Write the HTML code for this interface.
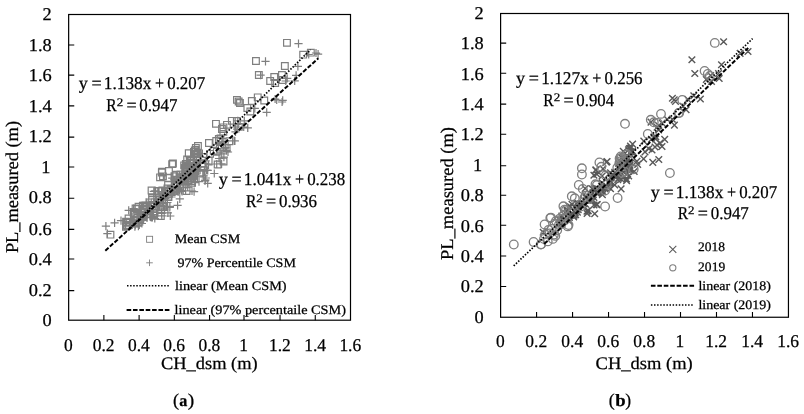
<!DOCTYPE html>
<html lang="en"><head><meta charset="utf-8"><title>PL_measured vs CH_dsm</title>
<style>html,body{margin:0;padding:0;background:#fff}svg{display:block}text{font-family:"Liberation Serif",serif;fill:#000;stroke:#000;stroke-width:.25px;text-rendering:geometricPrecision}</style></head><body>
<svg width="804" height="414" viewBox="0 0 804 414">
<rect width="804" height="414" fill="#fff"/>
<rect x="68.65" y="14.50" width="281.85" height="305.70" fill="none" stroke="#000" stroke-width="1.2"/>
<path d="M68.65 290.63h5.6M68.65 259.06h5.6M68.65 229.39h5.6M68.65 198.32h5.6M68.65 167.05h5.6M68.65 137.08h5.6M68.65 105.91h5.6M68.65 75.14h5.6M68.65 45.07h5.6M103.88 320.20v-5.2M139.11 320.20v-5.2M174.34 320.20v-5.2M209.58 320.20v-5.2M244.01 320.20v-5.2M280.04 320.20v-5.2M315.27 320.20v-5.2" stroke="#000" stroke-width="1.1" fill="none"/>
<path d="M283.6 39.5h6.7v6.7h-6.7zM252.6 57.6h6.7v6.7h-6.7zM281.5 62.6h6.7v6.7h-6.7zM299.8 51.3h6.7v6.7h-6.7zM307.5 49.3h6.7v6.7h-6.7zM255.5 71.6h6.7v6.7h-6.7zM270.9 73.6h6.7v6.7h-6.7zM278.6 71.6h6.7v6.7h-6.7zM266.8 77.6h6.7v6.7h-6.7zM271.8 79.6h6.7v6.7h-6.7zM279.3 76.6h6.7v6.7h-6.7zM233.6 96.5h6.7v6.7h-6.7zM236.6 99.7h6.7v6.7h-6.7zM248.5 97.7h6.7v6.7h-6.7zM254.4 94.0h6.7v6.7h-6.7zM260.9 97.1h6.7v6.7h-6.7zM244.0 104.6h6.7v6.7h-6.7zM247.0 108.1h6.7v6.7h-6.7zM212.6 120.5h6.7v6.7h-6.7zM220.1 124.0h6.7v6.7h-6.7zM223.6 121.5h6.7v6.7h-6.7zM233.5 117.6h6.7v6.7h-6.7zM235.5 123.5h6.7v6.7h-6.7zM205.6 139.6h6.7v6.7h-6.7zM215.5 135.6h6.7v6.7h-6.7zM194.6 142.6h6.7v6.7h-6.7zM192.6 146.6h6.7v6.7h-6.7zM190.6 148.5h6.7v6.7h-6.7zM169.6 160.1h6.7v6.7h-6.7zM165.6 167.6h6.7v6.7h-6.7zM158.5 169.1h6.7v6.7h-6.7zM156.7 174.0h6.7v6.7h-6.7zM182.5 160.6h6.7v6.7h-6.7zM191.5 147.2h6.7v6.7h-6.7zM192.5 144.7h6.7v6.7h-6.7zM214.3 161.1h6.7v6.7h-6.7zM220.2 158.1h6.7v6.7h-6.7zM148.2 187.2h6.7v6.7h-6.7zM158.7 168.3h6.7v6.7h-6.7zM168.8 160.8h6.7v6.7h-6.7zM107.1 231.3h6.7v6.7h-6.7zM235.3 98.1h6.7v6.7h-6.7zM226.0 137.9h6.7v6.7h-6.7zM199.5 163.0h6.7v6.7h-6.7zM205.3 157.5h6.7v6.7h-6.7zM213.5 148.5h6.7v6.7h-6.7zM216.5 145.5h6.7v6.7h-6.7zM218.4 143.5h6.7v6.7h-6.7zM221.4 141.5h6.7v6.7h-6.7zM223.3 145.0h6.7v6.7h-6.7zM132.8 220.2h6.7v6.7h-6.7zM148.7 194.8h6.7v6.7h-6.7zM153.8 195.0h6.7v6.7h-6.7zM182.8 165.5h6.7v6.7h-6.7zM191.8 166.7h6.7v6.7h-6.7zM177.1 171.1h6.7v6.7h-6.7zM164.7 174.7h6.7v6.7h-6.7zM165.0 193.6h6.7v6.7h-6.7zM173.4 176.7h6.7v6.7h-6.7zM186.4 156.2h6.7v6.7h-6.7zM181.0 176.9h6.7v6.7h-6.7zM157.8 187.9h6.7v6.7h-6.7zM164.1 185.1h6.7v6.7h-6.7zM165.6 190.5h6.7v6.7h-6.7zM191.6 164.3h6.7v6.7h-6.7zM173.6 176.6h6.7v6.7h-6.7zM171.1 172.8h6.7v6.7h-6.7zM130.3 209.5h6.7v6.7h-6.7zM154.9 187.5h6.7v6.7h-6.7zM185.6 171.0h6.7v6.7h-6.7zM187.1 157.6h6.7v6.7h-6.7zM138.8 213.7h6.7v6.7h-6.7zM141.1 202.1h6.7v6.7h-6.7zM163.6 188.0h6.7v6.7h-6.7zM167.4 187.6h6.7v6.7h-6.7zM217.1 137.4h6.7v6.7h-6.7zM151.2 209.5h6.7v6.7h-6.7zM126.7 218.5h6.7v6.7h-6.7zM125.6 221.6h6.7v6.7h-6.7zM148.6 203.0h6.7v6.7h-6.7zM132.7 216.4h6.7v6.7h-6.7zM130.8 213.9h6.7v6.7h-6.7zM157.5 212.6h6.7v6.7h-6.7zM141.3 208.5h6.7v6.7h-6.7zM192.0 163.8h6.7v6.7h-6.7zM194.1 150.8h6.7v6.7h-6.7zM148.8 196.6h6.7v6.7h-6.7zM179.3 175.1h6.7v6.7h-6.7zM194.5 149.8h6.7v6.7h-6.7zM176.4 174.2h6.7v6.7h-6.7zM123.8 221.7h6.7v6.7h-6.7zM172.9 171.4h6.7v6.7h-6.7zM228.5 117.5h6.7v6.7h-6.7zM138.5 211.4h6.7v6.7h-6.7zM188.3 159.4h6.7v6.7h-6.7zM180.8 162.0h6.7v6.7h-6.7zM217.2 135.2h6.7v6.7h-6.7zM180.1 178.3h6.7v6.7h-6.7zM196.1 170.2h6.7v6.7h-6.7zM134.2 214.3h6.7v6.7h-6.7zM218.6 125.7h6.7v6.7h-6.7zM210.4 147.3h6.7v6.7h-6.7zM122.7 218.3h6.7v6.7h-6.7zM190.7 174.7h6.7v6.7h-6.7zM137.3 214.2h6.7v6.7h-6.7zM165.1 187.1h6.7v6.7h-6.7zM189.0 167.9h6.7v6.7h-6.7zM188.6 177.6h6.7v6.7h-6.7zM161.0 192.1h6.7v6.7h-6.7zM135.2 203.3h6.7v6.7h-6.7zM156.7 196.4h6.7v6.7h-6.7zM160.0 203.5h6.7v6.7h-6.7zM163.1 188.6h6.7v6.7h-6.7zM159.2 203.7h6.7v6.7h-6.7zM198.7 159.9h6.7v6.7h-6.7zM172.9 187.4h6.7v6.7h-6.7zM191.3 165.4h6.7v6.7h-6.7zM188.7 179.4h6.7v6.7h-6.7zM131.8 213.9h6.7v6.7h-6.7zM139.5 202.4h6.7v6.7h-6.7zM188.0 157.6h6.7v6.7h-6.7zM132.2 205.2h6.7v6.7h-6.7zM192.1 166.6h6.7v6.7h-6.7zM220.0 128.4h6.7v6.7h-6.7zM146.8 202.7h6.7v6.7h-6.7zM159.6 173.0h6.7v6.7h-6.7zM193.6 154.1h6.7v6.7h-6.7zM179.3 173.1h6.7v6.7h-6.7zM189.1 160.6h6.7v6.7h-6.7zM189.7 172.5h6.7v6.7h-6.7zM191.1 168.0h6.7v6.7h-6.7zM185.0 176.7h6.7v6.7h-6.7zM146.8 199.0h6.7v6.7h-6.7zM139.3 208.8h6.7v6.7h-6.7zM143.1 202.7h6.7v6.7h-6.7zM156.8 203.9h6.7v6.7h-6.7zM153.6 199.3h6.7v6.7h-6.7zM159.2 192.1h6.7v6.7h-6.7zM183.2 187.6h6.7v6.7h-6.7zM131.3 209.4h6.7v6.7h-6.7zM133.7 205.7h6.7v6.7h-6.7zM171.3 181.6h6.7v6.7h-6.7zM155.7 191.7h6.7v6.7h-6.7zM192.8 150.4h6.7v6.7h-6.7zM193.1 161.5h6.7v6.7h-6.7zM149.9 210.1h6.7v6.7h-6.7zM159.0 187.0h6.7v6.7h-6.7zM151.2 198.9h6.7v6.7h-6.7zM170.3 186.0h6.7v6.7h-6.7zM182.7 171.0h6.7v6.7h-6.7zM183.5 160.7h6.7v6.7h-6.7zM181.8 164.6h6.7v6.7h-6.7zM183.4 164.0h6.7v6.7h-6.7zM187.7 168.8h6.7v6.7h-6.7zM124.0 222.7h6.7v6.7h-6.7zM183.5 177.9h6.7v6.7h-6.7zM172.0 180.4h6.7v6.7h-6.7zM177.0 183.8h6.7v6.7h-6.7zM136.9 215.8h6.7v6.7h-6.7zM150.0 212.4h6.7v6.7h-6.7zM167.3 186.3h6.7v6.7h-6.7zM140.5 211.3h6.7v6.7h-6.7zM122.6 223.4h6.7v6.7h-6.7zM172.9 181.7h6.7v6.7h-6.7zM156.0 199.1h6.7v6.7h-6.7zM185.4 149.9h6.7v6.7h-6.7zM155.6 188.0h6.7v6.7h-6.7zM141.5 205.6h6.7v6.7h-6.7zM164.7 181.6h6.7v6.7h-6.7zM181.8 166.6h6.7v6.7h-6.7zM212.9 137.6h6.7v6.7h-6.7zM123.5 219.4h6.7v6.7h-6.7zM144.0 203.3h6.7v6.7h-6.7zM183.8 156.2h6.7v6.7h-6.7zM130.6 210.6h6.7v6.7h-6.7zM190.3 166.7h6.7v6.7h-6.7zM206.7 150.5h6.7v6.7h-6.7zM125.2 215.1h6.7v6.7h-6.7z" fill="none" stroke="#7f7f7f" stroke-width="1.2"/>
<path d="M294.4 43.6h8.2M298.5 39.5v8.2M261.4 61.3h8.2M265.5 57.2v8.2M293.8 66.3h8.2M297.9 62.2v8.2M304.6 54.5h8.2M308.7 50.4v8.2M314.0 54.2h8.2M318.1 50.1v8.2M311.9 53.0h8.2M316.0 48.9v8.2M256.5 75.2h8.2M260.6 71.1v8.2M292.0 75.4h8.2M296.1 71.3v8.2M283.1 78.4h8.2M287.2 74.3v8.2M290.6 80.9h8.2M294.7 76.8v8.2M281.6 81.0h8.2M285.7 76.9v8.2M272.6 100.0h8.2M276.7 95.9v8.2M278.6 100.3h8.2M282.7 96.2v8.2M271.0 99.0h8.2M275.1 94.9v8.2M278.0 102.0h8.2M282.1 97.9v8.2M262.6 112.4h8.2M266.7 108.3v8.2M250.7 108.4h8.2M254.8 104.3v8.2M240.2 120.9h8.2M244.3 116.8v8.2M243.7 127.8h8.2M247.8 123.7v8.2M230.8 127.0h8.2M234.9 122.9v8.2M234.6 124.0h8.2M238.7 119.9v8.2M243.6 128.0h8.2M247.7 123.9v8.2M228.6 140.9h8.2M232.7 136.8v8.2M239.6 127.0h8.2M243.7 122.9v8.2M217.5 163.9h8.2M221.6 159.8v8.2M203.6 170.4h8.2M207.7 166.3v8.2M199.6 175.8h8.2M203.7 171.7v8.2M203.6 183.3h8.2M207.7 179.2v8.2M212.6 164.0h8.2M216.7 159.9v8.2M101.8 226.1h8.2M105.9 222.0v8.2M103.3 233.7h8.2M107.4 229.6v8.2M110.5 222.8h8.2M114.6 218.7v8.2M116.9 220.6h8.2M121.0 216.5v8.2M124.6 210.4h8.2M128.7 206.3v8.2M150.7 218.5h8.2M154.8 214.4v8.2M173.5 205.4h8.2M177.6 201.3v8.2M175.7 198.9h8.2M179.8 194.8v8.2M219.8 157.1h8.2M223.9 153.0v8.2M221.4 147.7h8.2M225.5 143.6v8.2M190.0 191.6h8.2M194.1 187.5v8.2M223.9 152.0h8.2M228.0 147.9v8.2M214.9 158.5h8.2M219.0 154.4v8.2M137.8 223.5h8.2M141.9 219.4v8.2M157.6 198.2h8.2M161.7 194.1v8.2M161.4 198.4h8.2M165.5 194.3v8.2M192.1 168.9h8.2M196.2 164.8v8.2M196.0 170.1h8.2M200.1 166.0v8.2M180.3 174.5h8.2M184.4 170.4v8.2M168.1 178.1h8.2M172.2 174.0v8.2M167.4 197.0h8.2M171.5 192.9v8.2M180.3 180.1h8.2M184.4 176.0v8.2M192.5 159.6h8.2M196.6 155.5v8.2M179.9 180.2h8.2M184.0 176.1v8.2M172.1 191.2h8.2M176.2 187.1v8.2M174.0 188.4h8.2M178.1 184.3v8.2M167.2 193.9h8.2M171.3 189.8v8.2M190.5 167.7h8.2M194.6 163.6v8.2M170.2 179.9h8.2M174.3 175.8v8.2M178.6 176.1h8.2M182.7 172.0v8.2M140.3 212.9h8.2M144.4 208.8v8.2M151.1 190.9h8.2M155.2 186.8v8.2M191.3 174.3h8.2M195.4 170.2v8.2M196.7 161.0h8.2M200.8 156.9v8.2M146.1 217.0h8.2M150.2 212.9v8.2M153.3 205.5h8.2M157.4 201.4v8.2M178.0 191.3h8.2M182.1 187.2v8.2M173.2 191.0h8.2M177.3 186.9v8.2M230.4 140.8h8.2M234.5 136.7v8.2M163.8 212.9h8.2M167.9 208.8v8.2M134.1 221.8h8.2M138.2 217.7v8.2M135.2 224.9h8.2M139.3 220.8v8.2M165.8 206.3h8.2M169.9 202.2v8.2M139.2 219.7h8.2M143.3 215.6v8.2M147.1 217.3h8.2M151.2 213.2v8.2M166.2 216.0h8.2M170.3 211.9v8.2M149.4 211.8h8.2M153.5 207.7v8.2M195.7 167.2h8.2M199.8 163.1v8.2M194.5 154.2h8.2M198.6 150.1v8.2M163.3 200.0h8.2M167.4 195.9v8.2M189.3 178.4h8.2M193.4 174.3v8.2M193.5 153.1h8.2M197.6 149.0v8.2M189.4 177.6h8.2M193.5 173.5v8.2M131.2 225.1h8.2M135.3 221.0v8.2M178.0 174.8h8.2M182.1 170.7v8.2M233.7 120.9h8.2M237.8 116.8v8.2M148.5 214.7h8.2M152.6 210.6v8.2M189.8 162.7h8.2M193.9 158.6v8.2M191.4 165.4h8.2M195.5 161.3v8.2M217.9 138.5h8.2M222.0 134.4v8.2M194.9 181.6h8.2M199.0 177.5v8.2M210.2 173.5h8.2M214.3 169.4v8.2M143.1 217.6h8.2M147.2 213.5v8.2M233.1 129.1h8.2M237.2 125.0v8.2M222.4 150.6h8.2M226.5 146.5v8.2M128.0 221.6h8.2M132.1 217.5v8.2M201.7 178.0h8.2M205.8 173.9v8.2M148.3 217.5h8.2M152.4 213.4v8.2M177.2 190.5h8.2M181.3 186.4v8.2M200.3 171.2h8.2M204.4 167.1v8.2M200.9 180.9h8.2M205.0 176.8v8.2M167.5 195.4h8.2M171.6 191.3v8.2M142.1 206.7h8.2M146.2 202.6v8.2M156.7 199.7h8.2M160.8 195.6v8.2M163.5 206.9h8.2M167.6 202.8v8.2M174.0 191.9h8.2M178.1 187.8v8.2M162.5 207.0h8.2M166.6 202.9v8.2M201.3 163.3h8.2M205.4 159.2v8.2M181.5 190.8h8.2M185.6 186.7v8.2M187.7 168.7h8.2M191.8 164.6v8.2M190.7 182.7h8.2M194.8 178.6v8.2M142.4 217.3h8.2M146.5 213.2v8.2M149.6 205.7h8.2M153.7 201.6v8.2M201.6 160.9h8.2M205.7 156.8v8.2M129.6 208.5h8.2M133.7 204.4v8.2M202.4 170.0h8.2M206.5 165.9v8.2M231.4 131.8h8.2M235.5 127.7v8.2M157.8 206.0h8.2M161.9 201.9v8.2M172.2 176.3h8.2M176.3 172.2v8.2M202.8 157.4h8.2M206.9 153.3v8.2M188.7 176.5h8.2M192.8 172.4v8.2M192.0 164.0h8.2M196.1 159.9v8.2M192.8 175.8h8.2M196.9 171.7v8.2M191.4 171.3h8.2M195.5 167.2v8.2M201.3 180.0h8.2M205.4 175.9v8.2M142.0 202.3h8.2M146.1 198.2v8.2M148.0 212.2h8.2M152.1 208.1v8.2M146.5 206.0h8.2M150.6 201.9v8.2M165.7 207.3h8.2M169.8 203.2v8.2M150.3 202.7h8.2M154.4 198.6v8.2M160.1 195.5h8.2M164.2 191.4v8.2M187.9 191.0h8.2M192.0 186.9v8.2M141.7 212.8h8.2M145.8 208.7v8.2M145.5 209.1h8.2M149.6 205.0v8.2M181.8 185.0h8.2M185.9 180.9v8.2M167.1 195.0h8.2M171.2 190.9v8.2M198.3 153.7h8.2M202.4 149.6v8.2M204.4 164.8h8.2M208.5 160.7v8.2M157.5 213.4h8.2M161.6 209.3v8.2M165.8 190.4h8.2M169.9 186.3v8.2M158.2 202.2h8.2M162.3 198.1v8.2M174.7 189.4h8.2M178.8 185.3v8.2M181.8 174.3h8.2M185.9 170.2v8.2M185.5 164.0h8.2M189.6 159.9v8.2M193.4 168.0h8.2M197.5 163.9v8.2M180.8 167.4h8.2M184.9 163.3v8.2M187.0 172.2h8.2M191.1 168.1v8.2M134.3 226.1h8.2M138.4 222.0v8.2M187.5 181.3h8.2M191.6 177.2v8.2M178.7 183.8h8.2M182.8 179.7v8.2M183.6 187.1h8.2M187.7 183.0v8.2M129.1 219.2h8.2M133.2 215.1v8.2M157.7 215.8h8.2M161.8 211.7v8.2M172.3 189.6h8.2M176.4 185.5v8.2M142.6 214.6h8.2M146.7 210.5v8.2M130.8 226.7h8.2M134.9 222.6v8.2M175.6 185.0h8.2M179.7 180.9v8.2M163.3 202.5h8.2M167.4 198.4v8.2M190.3 153.3h8.2M194.4 149.2v8.2M149.7 191.3h8.2M153.8 187.2v8.2M160.5 208.9h8.2M164.6 204.8v8.2M176.3 184.9h8.2M180.4 180.8v8.2M182.7 169.9h8.2M186.8 165.8v8.2M230.8 141.0h8.2M234.9 136.9v8.2M130.3 222.7h8.2M134.4 218.6v8.2M154.4 206.7h8.2M158.5 202.6v8.2M190.6 159.5h8.2M194.7 155.4v8.2M133.5 214.0h8.2M137.6 209.9v8.2M200.8 170.1h8.2M204.9 166.0v8.2M217.6 153.8h8.2M221.7 149.7v8.2M137.9 218.4h8.2M142.0 214.3v8.2" fill="none" stroke="#7f7f7f" stroke-width="1.2"/>
<line x1="129.4" y1="228.5" x2="310.5" y2="49.7" stroke="#000" stroke-width="1.7" stroke-dasharray="1.5 1.6"/>
<line x1="105.3" y1="250.7" x2="318.4" y2="58.2" stroke="#000" stroke-width="2.0" stroke-dasharray="4.4 1.8"/>
<text x="51.80" y="325.7" font-size="18" text-anchor="end" textLength="9.18" lengthAdjust="spacingAndGlyphs">0</text>
<text x="51.80" y="296.0" font-size="18" text-anchor="end" textLength="22.95" lengthAdjust="spacingAndGlyphs">0.2</text>
<text x="51.80" y="264.6" font-size="18" text-anchor="end" textLength="22.95" lengthAdjust="spacingAndGlyphs">0.4</text>
<text x="51.80" y="234.5" font-size="18" text-anchor="end" textLength="22.95" lengthAdjust="spacingAndGlyphs">0.6</text>
<text x="51.80" y="203.4" font-size="18" text-anchor="end" textLength="22.95" lengthAdjust="spacingAndGlyphs">0.8</text>
<text x="50.40" y="172.8" font-size="18" text-anchor="end" textLength="9.18" lengthAdjust="spacingAndGlyphs">1</text>
<text x="51.80" y="142.3" font-size="18" text-anchor="end" textLength="22.95" lengthAdjust="spacingAndGlyphs">1.2</text>
<text x="51.80" y="111.7" font-size="18" text-anchor="end" textLength="22.95" lengthAdjust="spacingAndGlyphs">1.4</text>
<text x="51.80" y="81.1" font-size="18" text-anchor="end" textLength="22.95" lengthAdjust="spacingAndGlyphs">1.6</text>
<text x="51.80" y="50.6" font-size="18" text-anchor="end" textLength="22.95" lengthAdjust="spacingAndGlyphs">1.8</text>
<text x="51.80" y="20.0" font-size="18" text-anchor="end" textLength="9.18" lengthAdjust="spacingAndGlyphs">2</text>
<text x="68.45" y="351.1" font-size="18" text-anchor="middle" textLength="8.73" lengthAdjust="spacingAndGlyphs">0</text>
<text x="103.68" y="351.1" font-size="18" text-anchor="middle" textLength="21.82" lengthAdjust="spacingAndGlyphs">0.2</text>
<text x="138.91" y="351.1" font-size="18" text-anchor="middle" textLength="21.82" lengthAdjust="spacingAndGlyphs">0.4</text>
<text x="174.14" y="351.1" font-size="18" text-anchor="middle" textLength="21.82" lengthAdjust="spacingAndGlyphs">0.6</text>
<text x="209.38" y="351.1" font-size="18" text-anchor="middle" textLength="21.82" lengthAdjust="spacingAndGlyphs">0.8</text>
<text x="243.51" y="351.1" font-size="18" text-anchor="middle" textLength="8.73" lengthAdjust="spacingAndGlyphs">1</text>
<text x="279.84" y="351.1" font-size="18" text-anchor="middle" textLength="21.82" lengthAdjust="spacingAndGlyphs">1.2</text>
<text x="315.07" y="351.1" font-size="18" text-anchor="middle" textLength="21.82" lengthAdjust="spacingAndGlyphs">1.4</text>
<text x="350.30" y="351.1" font-size="18" text-anchor="middle" textLength="21.82" lengthAdjust="spacingAndGlyphs">1.6</text>
<text x="161.04" y="369.2" font-size="17.6" textLength="96.66" lengthAdjust="spacingAndGlyphs">CH_dsm (m)</text>
<text transform="translate(17.5 252.6) rotate(-90)" x="-0.53" y="0" font-size="18" textLength="132.14" lengthAdjust="spacingAndGlyphs">PL_measured (m)</text>
<text x="78.74" y="89.3" font-size="18" textLength="9.09" lengthAdjust="spacingAndGlyphs">y</text>
<text x="91.46" y="89.3" font-size="18" textLength="10.18" lengthAdjust="spacingAndGlyphs">=</text>
<text x="103.84" y="89.3" font-size="18" textLength="47.53" lengthAdjust="spacingAndGlyphs">1.138x</text>
<text x="154.96" y="89.3" font-size="18" textLength="9.09" lengthAdjust="spacingAndGlyphs">+</text>
<text x="167.22" y="89.3" font-size="18" textLength="37.93" lengthAdjust="spacingAndGlyphs">0.207</text>
<text x="106.35" y="110.9" font-size="18" textLength="10.37" lengthAdjust="spacingAndGlyphs">R</text>
<text x="116.73" y="105.7" font-size="11.5" stroke-width="0.12" textLength="6.49" lengthAdjust="spacingAndGlyphs">2</text>
<text x="126.40" y="110.9" font-size="18" textLength="10.18" lengthAdjust="spacingAndGlyphs">=</text>
<text x="139.36" y="110.9" font-size="18" textLength="38.03" lengthAdjust="spacingAndGlyphs">0.947</text>
<text x="218.68" y="184.9" font-size="18" textLength="9.09" lengthAdjust="spacingAndGlyphs">y</text>
<text x="231.40" y="184.9" font-size="18" textLength="10.18" lengthAdjust="spacingAndGlyphs">=</text>
<text x="243.78" y="184.9" font-size="18" textLength="47.53" lengthAdjust="spacingAndGlyphs">1.041x</text>
<text x="294.90" y="184.9" font-size="18" textLength="9.09" lengthAdjust="spacingAndGlyphs">+</text>
<text x="307.16" y="184.9" font-size="18" textLength="38.09" lengthAdjust="spacingAndGlyphs">0.238</text>
<text x="245.95" y="206.8" font-size="18" textLength="10.37" lengthAdjust="spacingAndGlyphs">R</text>
<text x="256.33" y="201.6" font-size="11.5" stroke-width="0.12" textLength="6.49" lengthAdjust="spacingAndGlyphs">2</text>
<text x="266.00" y="206.8" font-size="18" textLength="10.18" lengthAdjust="spacingAndGlyphs">=</text>
<text x="278.96" y="206.8" font-size="18" textLength="38.05" lengthAdjust="spacingAndGlyphs">0.936</text>
<rect x="146.6" y="236.3" width="6" height="6" fill="none" stroke="#7f7f7f" stroke-width="0.9"/>
<path d="M146.2 262.8h6.6M149.5 259.5v6.6" stroke="#7f7f7f" stroke-width="0.9" fill="none"/>
<line x1="127" y1="285.7" x2="168.8" y2="285.7" stroke="#000" stroke-width="1.5" stroke-dasharray="1.5 1.6"/>
<line x1="126.6" y1="310" x2="169.6" y2="310" stroke="#000" stroke-width="1.9" stroke-dasharray="4.6 1.77"/>
<text x="174.69" y="242.9" font-size="13" stroke-width="0.12" textLength="65.52" lengthAdjust="spacingAndGlyphs">Mean CSM</text>
<text x="177.45" y="267.2" font-size="13" stroke-width="0.12" textLength="118.46" lengthAdjust="spacingAndGlyphs">97% Percentile CSM</text>
<text x="175.01" y="290.1" font-size="13" stroke-width="0.12" textLength="111.61" lengthAdjust="spacingAndGlyphs">linear (Mean CSM)</text>
<text x="174.51" y="314.0" font-size="13" stroke-width="0.12" textLength="171.41" lengthAdjust="spacingAndGlyphs">linear (97% percentaile CSM)</text>
<text x="172.90" y="405.5" font-size="18" stroke-width="0.05" textLength="6.09" lengthAdjust="spacingAndGlyphs">(</text>
<text x="179.18" y="405.5" font-size="16.5" font-weight="bold" stroke-width="0.1" textLength="8.06" lengthAdjust="spacingAndGlyphs">a</text>
<text x="187.67" y="405.5" font-size="18" stroke-width="0.05" textLength="6.48" lengthAdjust="spacingAndGlyphs">)</text>
<rect x="500.60" y="13.50" width="287.85" height="303.75" fill="none" stroke="#000" stroke-width="1.2"/>
<path d="M500.60 286.57h5.6M500.60 256.00h5.6M500.60 225.22h5.6M500.60 195.30h5.6M500.60 165.68h5.6M500.60 134.30h5.6M500.60 104.12h5.6M500.60 73.25h5.6M500.60 43.17h5.6M536.58 317.25v-5.2M572.56 317.25v-5.2M608.54 317.25v-5.2M644.53 317.25v-5.2M680.51 317.25v-5.2M716.49 317.25v-5.2M752.47 317.25v-5.2" stroke="#000" stroke-width="1.1" fill="none"/>
<path d="M720.3 38.4l6.6 6.6M720.3 45.0l6.6 -6.6M688.6 56.4l6.6 6.6M688.6 63.0l6.6 -6.6M718.2 61.4l6.6 6.6M718.2 68.0l6.6 -6.6M736.8 50.1l6.6 6.6M736.8 56.7l6.6 -6.6M744.7 48.2l6.6 6.6M744.7 54.8l6.6 -6.6M691.5 70.2l6.6 6.6M691.5 76.8l6.6 -6.6M707.3 72.2l6.6 6.6M707.3 78.8l6.6 -6.6M715.2 70.2l6.6 6.6M715.2 76.8l6.6 -6.6M703.0 76.2l6.6 6.6M703.0 82.8l6.6 -6.6M708.2 78.2l6.6 6.6M708.2 84.8l6.6 -6.6M715.9 75.2l6.6 6.6M715.9 81.8l6.6 -6.6M669.1 95.0l6.6 6.6M669.1 101.6l6.6 -6.6M672.2 98.1l6.6 6.6M672.2 104.7l6.6 -6.6M684.5 96.1l6.6 6.6M684.5 102.7l6.6 -6.6M690.5 92.5l6.6 6.6M690.5 99.1l6.6 -6.6M697.1 95.7l6.6 6.6M697.1 102.3l6.6 -6.6M679.8 103.0l6.6 6.6M679.8 109.6l6.6 -6.6M682.8 106.5l6.6 6.6M682.8 113.1l6.6 -6.6M647.7 118.8l6.6 6.6M647.7 125.4l6.6 -6.6M655.3 122.3l6.6 6.6M655.3 128.9l6.6 -6.6M658.9 119.8l6.6 6.6M658.9 126.4l6.6 -6.6M669.0 115.9l6.6 6.6M669.0 122.5l6.6 -6.6M671.1 121.8l6.6 6.6M671.1 128.4l6.6 -6.6M640.5 137.8l6.6 6.6M640.5 144.4l6.6 -6.6M650.6 133.8l6.6 6.6M650.6 140.4l6.6 -6.6M629.3 140.8l6.6 6.6M629.3 147.4l6.6 -6.6M627.3 144.7l6.6 6.6M627.3 151.3l6.6 -6.6M625.2 146.6l6.6 6.6M625.2 153.2l6.6 -6.6M603.8 158.2l6.6 6.6M603.8 164.8l6.6 -6.6M599.7 165.6l6.6 6.6M599.7 172.2l6.6 -6.6M592.5 167.1l6.6 6.6M592.5 173.7l6.6 -6.6M590.6 172.0l6.6 6.6M590.6 178.6l6.6 -6.6M616.9 158.6l6.6 6.6M616.9 165.2l6.6 -6.6M626.1 145.3l6.6 6.6M626.1 151.9l6.6 -6.6M627.2 142.8l6.6 6.6M627.2 149.4l6.6 -6.6M649.5 159.1l6.6 6.6M649.5 165.7l6.6 -6.6M655.5 156.2l6.6 6.6M655.5 162.8l6.6 -6.6M581.9 185.2l6.6 6.6M581.9 191.8l6.6 -6.6M592.6 166.4l6.6 6.6M592.6 173.0l6.6 -6.6M603.1 158.8l6.6 6.6M603.1 165.4l6.6 -6.6M539.9 229.0l6.6 6.6M539.9 235.6l6.6 -6.6M670.9 96.6l6.6 6.6M670.9 103.2l6.6 -6.6M661.4 136.1l6.6 6.6M661.4 142.7l6.6 -6.6M634.4 161.1l6.6 6.6M634.4 167.7l6.6 -6.6M640.3 155.6l6.6 6.6M640.3 162.2l6.6 -6.6M648.7 146.7l6.6 6.6M648.7 153.3l6.6 -6.6M651.7 143.7l6.6 6.6M651.7 150.3l6.6 -6.6M653.7 141.7l6.6 6.6M653.7 148.3l6.6 -6.6M656.7 139.7l6.6 6.6M656.7 146.3l6.6 -6.6M658.7 143.2l6.6 6.6M658.7 149.8l6.6 -6.6M566.3 217.9l6.6 6.6M566.3 224.5l6.6 -6.6M582.5 192.7l6.6 6.6M582.5 199.3l6.6 -6.6M587.6 192.9l6.6 6.6M587.6 199.5l6.6 -6.6M617.3 163.6l6.6 6.6M617.3 170.2l6.6 -6.6M626.5 164.8l6.6 6.6M626.5 171.4l6.6 -6.6M611.4 169.1l6.6 6.6M611.4 175.7l6.6 -6.6M598.8 172.7l6.6 6.6M598.8 179.3l6.6 -6.6M599.1 191.5l6.6 6.6M599.1 198.1l6.6 -6.6M607.7 174.7l6.6 6.6M607.7 181.3l6.6 -6.6M621.0 154.4l6.6 6.6M621.0 161.0l6.6 -6.6M615.4 174.9l6.6 6.6M615.4 181.5l6.6 -6.6M591.8 185.8l6.6 6.6M591.8 192.4l6.6 -6.6M598.2 183.0l6.6 6.6M598.2 189.6l6.6 -6.6M599.8 188.4l6.6 6.6M599.8 195.0l6.6 -6.6M626.3 162.4l6.6 6.6M626.3 169.0l6.6 -6.6M607.9 174.6l6.6 6.6M607.9 181.2l6.6 -6.6M605.4 170.8l6.6 6.6M605.4 177.4l6.6 -6.6M563.7 207.3l6.6 6.6M563.7 213.9l6.6 -6.6M588.8 185.4l6.6 6.6M588.8 192.0l6.6 -6.6M620.2 169.0l6.6 6.6M620.2 175.6l6.6 -6.6M621.7 155.7l6.6 6.6M621.7 162.3l6.6 -6.6M572.4 211.4l6.6 6.6M572.4 218.0l6.6 -6.6M574.7 200.0l6.6 6.6M574.7 206.6l6.6 -6.6M597.7 185.9l6.6 6.6M597.7 192.5l6.6 -6.6M601.5 185.5l6.6 6.6M601.5 192.1l6.6 -6.6M652.3 135.7l6.6 6.6M652.3 142.3l6.6 -6.6M585.0 207.3l6.6 6.6M585.0 213.9l6.6 -6.6M560.0 216.2l6.6 6.6M560.0 222.8l6.6 -6.6M558.8 219.3l6.6 6.6M558.8 225.9l6.6 -6.6M582.3 200.8l6.6 6.6M582.3 207.4l6.6 -6.6M566.1 214.1l6.6 6.6M566.1 220.7l6.6 -6.6M564.2 211.7l6.6 6.6M564.2 218.3l6.6 -6.6M591.4 210.4l6.6 6.6M591.4 217.0l6.6 -6.6M574.9 206.3l6.6 6.6M574.9 212.9l6.6 -6.6M626.7 161.9l6.6 6.6M626.7 168.5l6.6 -6.6M628.8 149.0l6.6 6.6M628.8 155.6l6.6 -6.6M582.6 194.5l6.6 6.6M582.6 201.1l6.6 -6.6M613.7 173.1l6.6 6.6M613.7 179.7l6.6 -6.6M629.3 147.9l6.6 6.6M629.3 154.5l6.6 -6.6M610.8 172.2l6.6 6.6M610.8 178.8l6.6 -6.6M557.1 219.4l6.6 6.6M557.1 226.0l6.6 -6.6M607.2 169.5l6.6 6.6M607.2 176.1l6.6 -6.6M663.9 115.9l6.6 6.6M663.9 122.5l6.6 -6.6M572.0 209.2l6.6 6.6M572.0 215.8l6.6 -6.6M622.9 157.5l6.6 6.6M622.9 164.1l6.6 -6.6M615.3 160.1l6.6 6.6M615.3 166.7l6.6 -6.6M652.5 133.4l6.6 6.6M652.5 140.0l6.6 -6.6M614.5 176.3l6.6 6.6M614.5 182.9l6.6 -6.6M630.9 168.2l6.6 6.6M630.9 174.8l6.6 -6.6M567.7 212.0l6.6 6.6M567.7 218.6l6.6 -6.6M653.8 124.0l6.6 6.6M653.8 130.6l6.6 -6.6M645.5 145.5l6.6 6.6M645.5 152.1l6.6 -6.6M555.9 216.0l6.6 6.6M555.9 222.6l6.6 -6.6M625.4 172.7l6.6 6.6M625.4 179.3l6.6 -6.6M570.8 212.0l6.6 6.6M570.8 218.6l6.6 -6.6M599.2 185.1l6.6 6.6M599.2 191.7l6.6 -6.6M623.6 165.9l6.6 6.6M623.6 172.5l6.6 -6.6M623.2 175.6l6.6 6.6M623.2 182.2l6.6 -6.6M595.1 190.0l6.6 6.6M595.1 196.6l6.6 -6.6M568.7 201.1l6.6 6.6M568.7 207.7l6.6 -6.6M590.6 194.2l6.6 6.6M590.6 200.8l6.6 -6.6M594.0 201.3l6.6 6.6M594.0 207.9l6.6 -6.6M597.2 186.5l6.6 6.6M597.2 193.1l6.6 -6.6M593.2 201.5l6.6 6.6M593.2 208.1l6.6 -6.6M633.6 158.0l6.6 6.6M633.6 164.6l6.6 -6.6M607.2 185.3l6.6 6.6M607.2 191.9l6.6 -6.6M626.0 163.4l6.6 6.6M626.0 170.0l6.6 -6.6M623.3 177.4l6.6 6.6M623.3 184.0l6.6 -6.6M565.2 211.7l6.6 6.6M565.2 218.3l6.6 -6.6M573.1 200.2l6.6 6.6M573.1 206.8l6.6 -6.6M622.6 155.7l6.6 6.6M622.6 162.3l6.6 -6.6M565.7 203.0l6.6 6.6M565.7 209.6l6.6 -6.6M626.8 164.7l6.6 6.6M626.8 171.3l6.6 -6.6M655.3 126.7l6.6 6.6M655.3 133.3l6.6 -6.6M580.5 200.5l6.6 6.6M580.5 207.1l6.6 -6.6M593.6 171.0l6.6 6.6M593.6 177.6l6.6 -6.6M628.3 152.2l6.6 6.6M628.3 158.8l6.6 -6.6M613.7 171.1l6.6 6.6M613.7 177.7l6.6 -6.6M623.7 158.7l6.6 6.6M623.7 165.3l6.6 -6.6M624.3 170.5l6.6 6.6M624.3 177.1l6.6 -6.6M625.8 166.0l6.6 6.6M625.8 172.6l6.6 -6.6M619.6 174.7l6.6 6.6M619.6 181.3l6.6 -6.6M580.5 196.8l6.6 6.6M580.5 203.4l6.6 -6.6M572.9 206.6l6.6 6.6M572.9 213.2l6.6 -6.6M576.8 200.5l6.6 6.6M576.8 207.1l6.6 -6.6M590.7 201.7l6.6 6.6M590.7 208.3l6.6 -6.6M587.5 197.2l6.6 6.6M587.5 203.8l6.6 -6.6M593.2 190.0l6.6 6.6M593.2 196.6l6.6 -6.6M617.8 185.6l6.6 6.6M617.8 192.2l6.6 -6.6M564.7 207.2l6.6 6.6M564.7 213.8l6.6 -6.6M567.2 203.5l6.6 6.6M567.2 210.1l6.6 -6.6M605.5 179.6l6.6 6.6M605.5 186.2l6.6 -6.6M589.6 189.6l6.6 6.6M589.6 196.2l6.6 -6.6M627.5 148.5l6.6 6.6M627.5 155.1l6.6 -6.6M627.8 159.6l6.6 6.6M627.8 166.2l6.6 -6.6M583.7 207.8l6.6 6.6M583.7 214.4l6.6 -6.6M593.0 185.0l6.6 6.6M593.0 191.6l6.6 -6.6M585.1 196.7l6.6 6.6M585.1 203.3l6.6 -6.6M604.6 184.0l6.6 6.6M604.6 190.6l6.6 -6.6M617.2 169.0l6.6 6.6M617.2 175.6l6.6 -6.6M618.0 158.8l6.6 6.6M618.0 165.4l6.6 -6.6M616.2 162.7l6.6 6.6M616.2 169.3l6.6 -6.6M618.0 162.1l6.6 6.6M618.0 168.7l6.6 -6.6M622.3 166.9l6.6 6.6M622.3 173.5l6.6 -6.6M557.2 220.4l6.6 6.6M557.2 227.0l6.6 -6.6M618.0 175.9l6.6 6.6M618.0 182.5l6.6 -6.6M606.3 178.4l6.6 6.6M606.3 185.0l6.6 -6.6M611.4 181.7l6.6 6.6M611.4 188.3l6.6 -6.6M570.4 213.6l6.6 6.6M570.4 220.2l6.6 -6.6M583.8 210.2l6.6 6.6M583.8 216.8l6.6 -6.6M601.5 184.2l6.6 6.6M601.5 190.8l6.6 -6.6M574.1 209.0l6.6 6.6M574.1 215.6l6.6 -6.6M555.8 221.1l6.6 6.6M555.8 227.7l6.6 -6.6M607.2 179.6l6.6 6.6M607.2 186.2l6.6 -6.6M590.0 197.0l6.6 6.6M590.0 203.6l6.6 -6.6M620.0 148.1l6.6 6.6M620.0 154.7l6.6 -6.6M589.6 185.9l6.6 6.6M589.6 192.5l6.6 -6.6M575.2 203.4l6.6 6.6M575.2 210.0l6.6 -6.6M598.8 179.5l6.6 6.6M598.8 186.1l6.6 -6.6M616.2 164.6l6.6 6.6M616.2 171.2l6.6 -6.6M648.1 135.9l6.6 6.6M648.1 142.5l6.6 -6.6M556.7 217.1l6.6 6.6M556.7 223.7l6.6 -6.6M577.7 201.1l6.6 6.6M577.7 207.7l6.6 -6.6M618.4 154.3l6.6 6.6M618.4 160.9l6.6 -6.6M563.9 208.4l6.6 6.6M563.9 215.0l6.6 -6.6M625.0 164.8l6.6 6.6M625.0 171.4l6.6 -6.6M641.7 148.6l6.6 6.6M641.7 155.2l6.6 -6.6M558.5 212.8l6.6 6.6M558.5 219.4l6.6 -6.6" fill="none" stroke="#595959" stroke-width="1.4"/>
<g fill="none" stroke="#7f7f7f" stroke-width="1.3">
<circle cx="714.8" cy="42.9" r="4.3"/>
<circle cx="704.6" cy="70.9" r="4.3"/>
<circle cx="707.8" cy="73.9" r="4.3"/>
<circle cx="709.8" cy="76.0" r="4.3"/>
<circle cx="682.2" cy="99.9" r="4.3"/>
<circle cx="661.0" cy="113.9" r="4.3"/>
<circle cx="679.2" cy="112.9" r="4.3"/>
<circle cx="650.8" cy="119.8" r="4.3"/>
<circle cx="653.8" cy="122.3" r="4.3"/>
<circle cx="625.0" cy="123.8" r="4.3"/>
<circle cx="657.7" cy="122.9" r="4.3"/>
<circle cx="647.8" cy="133.9" r="4.3"/>
<circle cx="678.6" cy="113.0" r="4.3"/>
<circle cx="581.9" cy="168.3" r="4.3"/>
<circle cx="581.9" cy="174.5" r="4.3"/>
<circle cx="599.4" cy="162.4" r="4.3"/>
<circle cx="601.3" cy="166.8" r="4.3"/>
<circle cx="620.7" cy="156.4" r="4.3"/>
<circle cx="619.8" cy="161.4" r="4.3"/>
<circle cx="633.7" cy="169.3" r="4.3"/>
<circle cx="578.8" cy="184.9" r="4.3"/>
<circle cx="571.8" cy="196.3" r="4.3"/>
<circle cx="574.8" cy="198.3" r="4.3"/>
<circle cx="582.8" cy="188.9" r="4.3"/>
<circle cx="617.6" cy="198.0" r="4.3"/>
<circle cx="550.9" cy="217.6" r="4.3"/>
<circle cx="544.6" cy="224.5" r="4.3"/>
<circle cx="566.0" cy="210.1" r="4.3"/>
<circle cx="567.8" cy="226.4" r="4.3"/>
<circle cx="555.3" cy="235.9" r="4.3"/>
<circle cx="533.6" cy="242.0" r="4.3"/>
<circle cx="513.8" cy="244.5" r="4.3"/>
<circle cx="540.8" cy="244.5" r="4.3"/>
<circle cx="544.0" cy="238.9" r="4.3"/>
<circle cx="547.7" cy="241.4" r="4.3"/>
<circle cx="552.8" cy="238.9" r="4.3"/>
<circle cx="554.0" cy="234.5" r="4.3"/>
<circle cx="550.3" cy="218.1" r="4.3"/>
<circle cx="568.5" cy="225.1" r="4.3"/>
<circle cx="669.9" cy="173.0" r="4.3"/>
<circle cx="605.1" cy="206.5" r="4.3"/>
<circle cx="563.3" cy="215.8" r="4.3"/>
<circle cx="561.4" cy="223.9" r="4.3"/>
<circle cx="584.4" cy="197.9" r="4.3"/>
<circle cx="626.0" cy="154.8" r="4.3"/>
<circle cx="619.3" cy="163.5" r="4.3"/>
<circle cx="622.0" cy="172.7" r="4.3"/>
<circle cx="624.6" cy="171.6" r="4.3"/>
<circle cx="541.2" cy="244.3" r="4.3"/>
<circle cx="605.1" cy="190.6" r="4.3"/>
<circle cx="596.9" cy="185.1" r="4.3"/>
<circle cx="563.4" cy="206.3" r="4.3"/>
<circle cx="548.5" cy="229.9" r="4.3"/>
<circle cx="580.8" cy="206.6" r="4.3"/>
<circle cx="605.7" cy="175.4" r="4.3"/>
<circle cx="627.9" cy="159.4" r="4.3"/>
<circle cx="564.7" cy="209.6" r="4.3"/>
<circle cx="588.7" cy="199.1" r="4.3"/>
<circle cx="551.7" cy="228.9" r="4.3"/>
<circle cx="556.0" cy="220.9" r="4.3"/>
<circle cx="557.2" cy="230.2" r="4.3"/>
<circle cx="621.4" cy="158.0" r="4.3"/>
<circle cx="549.6" cy="233.4" r="4.3"/>
<circle cx="554.6" cy="223.6" r="4.3"/>
<circle cx="545.1" cy="234.4" r="4.3"/>
<circle cx="559.0" cy="224.8" r="4.3"/>
<circle cx="619.6" cy="158.4" r="4.3"/>
<circle cx="606.7" cy="184.6" r="4.3"/>
<circle cx="585.6" cy="195.6" r="4.3"/>
<circle cx="571.8" cy="213.3" r="4.3"/>
<circle cx="562.5" cy="219.0" r="4.3"/>
<circle cx="627.1" cy="154.2" r="4.3"/>
<circle cx="595.5" cy="184.3" r="4.3"/>
<circle cx="617.3" cy="167.8" r="4.3"/>
<circle cx="559.8" cy="218.6" r="4.3"/>
</g>
<line x1="513.7" y1="265.9" x2="752.6" y2="38.6" stroke="#000" stroke-width="1.7" stroke-dasharray="1.5 1.6"/>
<line x1="544.2" y1="243.9" x2="748.2" y2="48.0" stroke="#000" stroke-width="2.0" stroke-dasharray="4.4 1.8"/>
<text x="483.70" y="322.6" font-size="18" text-anchor="end" textLength="9.18" lengthAdjust="spacingAndGlyphs">0</text>
<text x="483.70" y="292.3" font-size="18" text-anchor="end" textLength="22.95" lengthAdjust="spacingAndGlyphs">0.2</text>
<text x="483.70" y="261.9" font-size="18" text-anchor="end" textLength="22.95" lengthAdjust="spacingAndGlyphs">0.4</text>
<text x="483.70" y="231.5" font-size="18" text-anchor="end" textLength="22.95" lengthAdjust="spacingAndGlyphs">0.6</text>
<text x="483.70" y="201.2" font-size="18" text-anchor="end" textLength="22.95" lengthAdjust="spacingAndGlyphs">0.8</text>
<text x="482.30" y="170.8" font-size="18" text-anchor="end" textLength="9.18" lengthAdjust="spacingAndGlyphs">1</text>
<text x="483.70" y="140.4" font-size="18" text-anchor="end" textLength="22.95" lengthAdjust="spacingAndGlyphs">1.2</text>
<text x="483.70" y="110.0" font-size="18" text-anchor="end" textLength="22.95" lengthAdjust="spacingAndGlyphs">1.4</text>
<text x="483.70" y="79.7" font-size="18" text-anchor="end" textLength="22.95" lengthAdjust="spacingAndGlyphs">1.6</text>
<text x="483.70" y="49.3" font-size="18" text-anchor="end" textLength="22.95" lengthAdjust="spacingAndGlyphs">1.8</text>
<text x="483.70" y="18.9" font-size="18" text-anchor="end" textLength="9.18" lengthAdjust="spacingAndGlyphs">2</text>
<text x="500.30" y="346.6" font-size="18" text-anchor="middle" textLength="8.73" lengthAdjust="spacingAndGlyphs">0</text>
<text x="536.28" y="346.6" font-size="18" text-anchor="middle" textLength="21.82" lengthAdjust="spacingAndGlyphs">0.2</text>
<text x="572.26" y="346.6" font-size="18" text-anchor="middle" textLength="21.82" lengthAdjust="spacingAndGlyphs">0.4</text>
<text x="608.24" y="346.6" font-size="18" text-anchor="middle" textLength="21.82" lengthAdjust="spacingAndGlyphs">0.6</text>
<text x="644.23" y="346.6" font-size="18" text-anchor="middle" textLength="21.82" lengthAdjust="spacingAndGlyphs">0.8</text>
<text x="679.91" y="346.6" font-size="18" text-anchor="middle" textLength="8.73" lengthAdjust="spacingAndGlyphs">1</text>
<text x="716.19" y="346.6" font-size="18" text-anchor="middle" textLength="21.82" lengthAdjust="spacingAndGlyphs">1.2</text>
<text x="752.17" y="346.6" font-size="18" text-anchor="middle" textLength="21.82" lengthAdjust="spacingAndGlyphs">1.4</text>
<text x="788.15" y="346.6" font-size="18" text-anchor="middle" textLength="21.82" lengthAdjust="spacingAndGlyphs">1.6</text>
<text x="595.64" y="369.2" font-size="17.6" textLength="97.17" lengthAdjust="spacingAndGlyphs">CH_dsm (m)</text>
<text transform="translate(452.7 259.4) rotate(-90)" x="-0.53" y="0" font-size="18" textLength="132.84" lengthAdjust="spacingAndGlyphs">PL_measured (m)</text>
<text x="516.08" y="83.9" font-size="18" textLength="9.09" lengthAdjust="spacingAndGlyphs">y</text>
<text x="528.80" y="83.9" font-size="18" textLength="10.18" lengthAdjust="spacingAndGlyphs">=</text>
<text x="541.18" y="83.9" font-size="18" textLength="47.53" lengthAdjust="spacingAndGlyphs">1.127x</text>
<text x="592.30" y="83.9" font-size="18" textLength="9.09" lengthAdjust="spacingAndGlyphs">+</text>
<text x="604.56" y="83.9" font-size="18" textLength="37.94" lengthAdjust="spacingAndGlyphs">0.256</text>
<text x="543.35" y="105.7" font-size="18" textLength="10.37" lengthAdjust="spacingAndGlyphs">R</text>
<text x="553.73" y="100.5" font-size="11.5" stroke-width="0.12" textLength="6.49" lengthAdjust="spacingAndGlyphs">2</text>
<text x="563.40" y="105.7" font-size="18" textLength="10.18" lengthAdjust="spacingAndGlyphs">=</text>
<text x="576.36" y="105.7" font-size="18" textLength="37.80" lengthAdjust="spacingAndGlyphs">0.904</text>
<text x="650.68" y="197.5" font-size="18" textLength="9.09" lengthAdjust="spacingAndGlyphs">y</text>
<text x="663.40" y="197.5" font-size="18" textLength="10.18" lengthAdjust="spacingAndGlyphs">=</text>
<text x="675.78" y="197.5" font-size="18" textLength="47.53" lengthAdjust="spacingAndGlyphs">1.138x</text>
<text x="726.90" y="197.5" font-size="18" textLength="9.09" lengthAdjust="spacingAndGlyphs">+</text>
<text x="739.16" y="197.5" font-size="18" textLength="37.93" lengthAdjust="spacingAndGlyphs">0.207</text>
<text x="677.75" y="219.4" font-size="18" textLength="10.37" lengthAdjust="spacingAndGlyphs">R</text>
<text x="688.13" y="214.2" font-size="11.5" stroke-width="0.12" textLength="6.49" lengthAdjust="spacingAndGlyphs">2</text>
<text x="697.80" y="219.4" font-size="18" textLength="10.18" lengthAdjust="spacingAndGlyphs">=</text>
<text x="710.76" y="219.4" font-size="18" textLength="38.03" lengthAdjust="spacingAndGlyphs">0.947</text>
<path d="M669.3 245.8l7 7M669.3 252.8l7-7" stroke="#595959" stroke-width="1.05" fill="none"/>
<circle cx="672.8" cy="267.8" r="3.1" fill="none" stroke="#7f7f7f" stroke-width="1.1"/>
<line x1="650.9" y1="285.7" x2="694.3" y2="285.7" stroke="#000" stroke-width="1.9" stroke-dasharray="4.6 1.83"/>
<line x1="650.9" y1="305" x2="692.7" y2="305" stroke="#000" stroke-width="1.5" stroke-dasharray="1.5 1.6"/>
<text x="698.11" y="251.3" font-size="13" stroke-width="0.12" textLength="27.01" lengthAdjust="spacingAndGlyphs">2018</text>
<text x="698.11" y="270.8" font-size="13" stroke-width="0.12" textLength="27.05" lengthAdjust="spacingAndGlyphs">2019</text>
<text x="698.42" y="289.7" font-size="13" stroke-width="0.12" textLength="72.49" lengthAdjust="spacingAndGlyphs">linear (2018)</text>
<text x="698.42" y="308.6" font-size="13" stroke-width="0.12" textLength="72.49" lengthAdjust="spacingAndGlyphs">linear (2019)</text>
<text x="608.81" y="405.5" font-size="18" stroke-width="0.05" textLength="5.96" lengthAdjust="spacingAndGlyphs">(</text>
<text x="615.16" y="405.5" font-size="17.2" font-weight="bold" stroke-width="0.1" textLength="10.39" lengthAdjust="spacingAndGlyphs">b</text>
<text x="625.24" y="405.5" font-size="18" stroke-width="0.05" textLength="5.83" lengthAdjust="spacingAndGlyphs">)</text>
</svg></body></html>
